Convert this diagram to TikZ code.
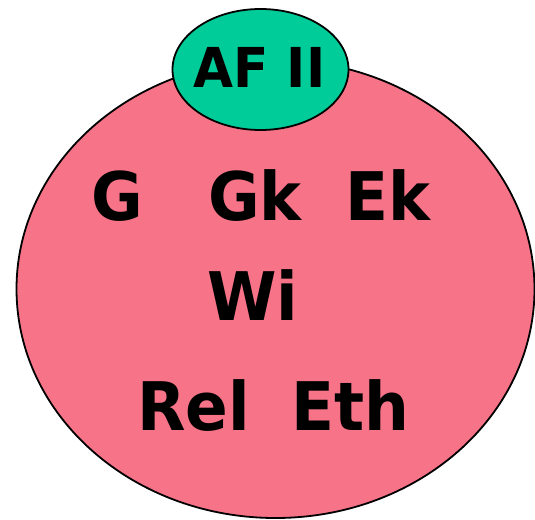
\documentclass[tikz,border=0pt]{standalone}
\usepackage{fontspec}
\setmainfont{DejaVu Sans}
\newfontfamily\labelfont[FakeStretch=0.94]{DejaVu Sans}
\usepackage{tikz}
\definecolor{pinkfill}{HTML}{F77388}
\definecolor{greenfill}{HTML}{00CC99}
\begin{document}
\begin{tikzpicture}[x=1pt,y=-1pt]
            \useasboundingbox (0,0) rectangle (535,519);
            \begin{scope}[every path/.style={draw=black, line width=1.8pt}]
                \path[fill=pinkfill] (275.5,289) ellipse [x radius=259, y radius=229];
                \path[fill=greenfill] (260.5,69.5) ellipse [x radius=88, y radius=60.5];
            \end{scope}
            \begin{scope}[every node/.style={anchor=base, inner sep=0pt, font=\labelfont\bfseries\fontsize{67}{70}\selectfont}]
                \node (af) at (259.5,87) {\fontsize{55}{58}\selectfont AF II};

                \node (g) at (117,220) {G};
                \node (gk) at (255,220) {Gk};
                \node (ek) at (388,220) {Ek};

                \node (wi) at (253,320) {Wi};

                \node (rel) at (193.5,430) {Rel};
                \node (eth) at (350.5,430) {Eth};
            \end{scope}
        \end{tikzpicture}
\end{document}
